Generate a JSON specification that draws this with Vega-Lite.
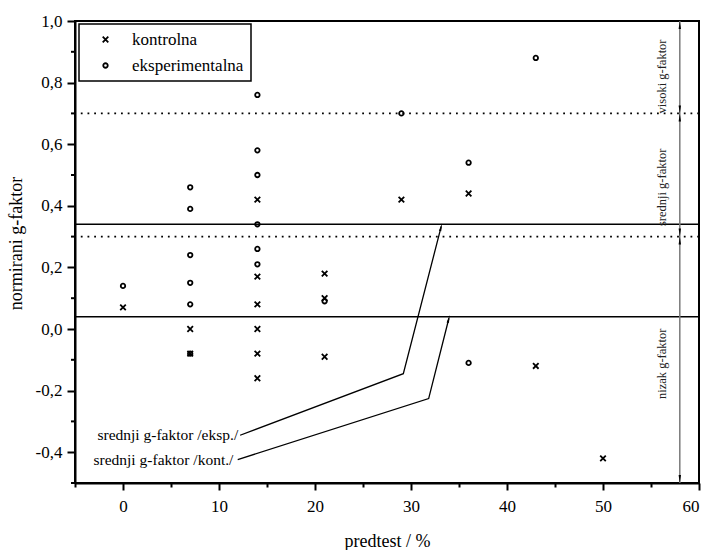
{
  "$schema": "https://vega.github.io/schema/vega-lite/v6.json",
  "width": 624,
  "height": 462,
  "autosize": {"type": "none"},
  "padding": {"left": 75, "top": 21, "right": 9, "bottom": 67},
  "background": "white",
  "config": {
    "locale": {"number": {"decimal": ",", "thousands": ".", "grouping": [3], "currency": ["", ""], "minus": "-"}},
    "view": {"stroke": "black", "strokeWidth": 2},
    "font": "Liberation Serif",
    "legend": {"strokeWidth": 1.5},
    "axis": {
      "grid": false,
      "domainColor": "black",
      "domainWidth": 2,
      "tickColor": "black",
      "tickWidth": 2,
      "labelFont": "Liberation Serif",
      "labelFontSize": 17,
      "labelColor": "black",
      "titleFont": "Liberation Serif",
      "titleFontSize": 18,
      "titleFontWeight": "normal",
      "titleColor": "black"
    }
  },
  "datasets": {
    "points": [
      {"x": 0, "y": 0.07, "g": "kontrolna"},
      {"x": 7, "y": 0.0, "g": "kontrolna"},
      {"x": 7, "y": -0.08, "g": "kontrolna"},
      {"x": 14, "y": 0.42, "g": "kontrolna"},
      {"x": 14, "y": 0.17, "g": "kontrolna"},
      {"x": 14, "y": 0.08, "g": "kontrolna"},
      {"x": 14, "y": 0.0, "g": "kontrolna"},
      {"x": 14, "y": -0.08, "g": "kontrolna"},
      {"x": 14, "y": -0.16, "g": "kontrolna"},
      {"x": 21, "y": 0.18, "g": "kontrolna"},
      {"x": 21, "y": 0.10, "g": "kontrolna"},
      {"x": 21, "y": -0.09, "g": "kontrolna"},
      {"x": 29, "y": 0.42, "g": "kontrolna"},
      {"x": 36, "y": 0.44, "g": "kontrolna"},
      {"x": 43, "y": -0.12, "g": "kontrolna"},
      {"x": 50, "y": -0.42, "g": "kontrolna"},
      {"x": 0, "y": 0.14, "g": "eksperimentalna"},
      {"x": 7, "y": 0.46, "g": "eksperimentalna"},
      {"x": 7, "y": 0.39, "g": "eksperimentalna"},
      {"x": 7, "y": 0.24, "g": "eksperimentalna"},
      {"x": 7, "y": 0.15, "g": "eksperimentalna"},
      {"x": 7, "y": 0.08, "g": "eksperimentalna"},
      {"x": 7, "y": -0.08, "g": "eksperimentalna"},
      {"x": 14, "y": 0.76, "g": "eksperimentalna"},
      {"x": 14, "y": 0.58, "g": "eksperimentalna"},
      {"x": 14, "y": 0.50, "g": "eksperimentalna"},
      {"x": 14, "y": 0.34, "g": "eksperimentalna"},
      {"x": 14, "y": 0.26, "g": "eksperimentalna"},
      {"x": 14, "y": 0.21, "g": "eksperimentalna"},
      {"x": 21, "y": 0.09, "g": "eksperimentalna"},
      {"x": 29, "y": 0.70, "g": "eksperimentalna"},
      {"x": 36, "y": 0.54, "g": "eksperimentalna"},
      {"x": 36, "y": -0.11, "g": "eksperimentalna"},
      {"x": 43, "y": 0.88, "g": "eksperimentalna"}
    ],
    "yminor": [{"y": -0.5}, {"y": -0.3}, {"y": -0.1}, {"y": 0.1}, {"y": 0.3}, {"y": 0.5}, {"y": 0.7}, {"y": 0.9}],
    "dotted": [{"y": 0.7}, {"y": 0.3}],
    "solid": [{"y": 0.34}, {"y": 0.04}],
    "band": [{"x": 58, "y": -0.5, "y2": 1.0}],
    "arrUp": [{"x": 58, "y": 0.987}, {"x": 58, "y": 0.687}, {"x": 58, "y": 0.287}],
    "arrDown": [{"x": 58, "y": 0.713}, {"x": 58, "y": 0.313}, {"x": 58, "y": -0.487}],
    "bandText": [
      {"x": 56.1, "y": 0.82, "t": "visoki g-faktor"},
      {"x": 56.1, "y": 0.46, "t": "srednji g-faktor"},
      {"x": 56.1, "y": -0.113, "t": "nizak g-faktor"}
    ],
    "paths": [
      {"s": "e", "o": 1, "x": 12.2, "y": -0.345},
      {"s": "e", "o": 2, "x": 29.2, "y": -0.145},
      {"s": "e", "o": 3, "x": 33.15, "y": 0.333},
      {"s": "k", "o": 1, "x": 11.95, "y": -0.424},
      {"s": "k", "o": 2, "x": 31.84, "y": -0.226},
      {"s": "k", "o": 3, "x": 33.95, "y": 0.035}
    ],
    "diagArrows": [{"x": 33.13, "y": 0.331}, {"x": 33.93, "y": 0.033}],
    "labels": [
      {"x": 12.0, "y": -0.343, "t": "srednji g-faktor /eksp./"},
      {"x": 11.5, "y": -0.426, "t": "srednji g-faktor /kont./"}
    ]
  },
  "layer": [
    {
      "data": {"name": "dotted"},
      "mark": {"type": "rule", "color": "black", "strokeWidth": 1.8, "strokeDash": [1.8, 4.9]},
      "encoding": {
        "y": {"field": "y", "type": "quantitative", "scale": {"domain": [-0.5, 1.0], "nice": false, "zero": false}}
      }
    },
    {
      "data": {"name": "solid"},
      "mark": {"type": "rule", "color": "black", "strokeWidth": 1.5},
      "encoding": {"y": {"field": "y", "type": "quantitative"}}
    },
    {
      "data": {"name": "yminor"},
      "mark": {"type": "rule", "color": "black", "strokeWidth": 2, "x2Offset": -4},
      "encoding": {
        "x": {"datum": -5, "type": "quantitative"},
        "x2": {"datum": -5},
        "y": {"field": "y", "type": "quantitative"}
      }
    },
    {
      "data": {"name": "band"},
      "mark": {"type": "rule", "color": "#7a7a7a", "strokeWidth": 1.5},
      "encoding": {
        "x": {"field": "x", "type": "quantitative"},
        "y": {"field": "y", "type": "quantitative"},
        "y2": {"field": "y2"}
      }
    },
    {
      "data": {"name": "arrUp"},
      "mark": {"type": "point", "shape": "M0,-1L0.3,1L-0.3,1Z", "filled": true, "color": "black", "size": 64, "opacity": 1},
      "encoding": {
        "x": {"field": "x", "type": "quantitative"},
        "y": {"field": "y", "type": "quantitative"}
      }
    },
    {
      "data": {"name": "arrDown"},
      "mark": {"type": "point", "shape": "M0,1L0.3,-1L-0.3,-1Z", "filled": true, "color": "black", "size": 64, "opacity": 1},
      "encoding": {
        "x": {"field": "x", "type": "quantitative"},
        "y": {"field": "y", "type": "quantitative"}
      }
    },
    {
      "data": {"name": "bandText"},
      "mark": {"type": "text", "angle": 270, "align": "center", "baseline": "middle", "font": "Liberation Serif", "fontSize": 12.5, "color": "#222"},
      "encoding": {
        "x": {"field": "x", "type": "quantitative"},
        "y": {"field": "y", "type": "quantitative"},
        "text": {"field": "t"}
      }
    },
    {
      "data": {"name": "paths"},
      "mark": {"type": "line", "color": "black", "strokeWidth": 1.3},
      "encoding": {
        "x": {"field": "x", "type": "quantitative"},
        "y": {"field": "y", "type": "quantitative"},
        "detail": {"field": "s"},
        "order": {"field": "o", "type": "quantitative"}
      }
    },
    {
      "data": {"name": "diagArrows"},
      "mark": {"type": "point", "shape": "M0,-1L0.3,1L-0.3,1Z", "filled": true, "color": "black", "size": 64, "opacity": 1, "angle": 14.3},
      "encoding": {
        "x": {"field": "x", "type": "quantitative"},
        "y": {"field": "y", "type": "quantitative"}
      }
    },
    {
      "data": {"name": "labels"},
      "mark": {"type": "text", "align": "right", "baseline": "middle", "font": "Liberation Serif", "fontSize": 15.5, "color": "black"},
      "encoding": {
        "x": {"field": "x", "type": "quantitative"},
        "y": {"field": "y", "type": "quantitative"},
        "text": {"field": "t"}
      }
    },
    {
      "data": {"name": "points"},
      "mark": {"type": "point", "filled": false, "color": "black", "strokeWidth": 1.8, "size": 20, "opacity": 1},
      "encoding": {
        "x": {"field": "x", "type": "quantitative", "scale": {"domain": [-5, 60], "nice": false, "zero": false},
          "axis": {
            "values": [-5, 0, 5, 10, 15, 20, 25, 30, 35, 40, 45, 50, 55, 60],
            "tickSize": {"condition": {"test": "datum.value%10==0", "value": 7}, "value": 4},
            "labelExpr": "datum.value%10==0 ? datum.label : ''",
            "labelPadding": 8,
            "title": "predtest / %",
            "titlePadding": 18
          }
        },
        "y": {"field": "y", "type": "quantitative",
          "axis": {
            "values": [-0.4, -0.2, 0, 0.2, 0.4, 0.6, 0.8, 1.0],
            "format": ".1f",
            "tickSize": 8,
            "labelOverlap": false,
            "labelPadding": 5,
            "title": "normirani g-faktor",
            "titlePadding": 10,
            "titleY": 222
          }
        },
        "shape": {
          "field": "g", "type": "nominal",
          "scale": {"domain": ["kontrolna", "eksperimentalna"], "range": ["M-1.25,-1.25L1.25,1.25M-1.25,1.25L1.25,-1.25", "circle"]},
          "legend": {
            "title": null,
            "orient": "none",
            "legendX": 4,
            "legendY": 3,
            "strokeColor": "black",
            "padding": 7,
            "symbolOffset": 11,
            "labelOffset": 18,
            "rowPadding": 8,
            "labelFont": "Liberation Serif",
            "labelFontSize": 17,
            "labelColor": "black",
            "symbolStrokeColor": "black",
            "symbolStrokeWidth": 1.8,
            "symbolSize": 20
          }
        }
      }
    }
  ]
}
